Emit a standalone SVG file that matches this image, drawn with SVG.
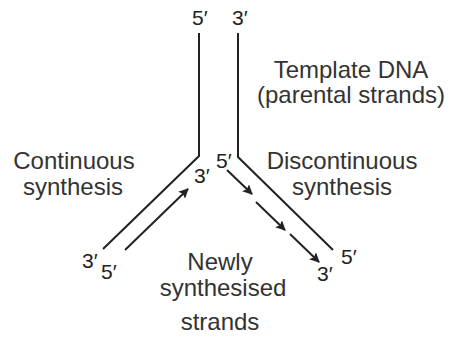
<svg xmlns="http://www.w3.org/2000/svg" width="454" height="339" viewBox="0 0 454 339">
<defs>
<marker id="ah" viewBox="0 0 10 10" refX="9" refY="5" markerWidth="10" markerHeight="10" markerUnits="userSpaceOnUse" orient="auto">
<path d="M0,0 L10,5 L0,10 L2,5 Z" fill="#222"/>
</marker>
<style>
.ln{fill:none;stroke:#222;stroke-width:2;}
.ar{fill:none;stroke:#222;stroke-width:2;marker-end:url(#ah);}
.t{font-family:"Liberation Sans",Arial,sans-serif;font-size:24px;fill:#333;text-anchor:middle;}
.n{font-family:"Liberation Sans",Arial,sans-serif;font-size:21px;fill:#222;}
</style>
</defs>
<rect width="454" height="339" fill="#fff"/>
<g id="connectors">
<path class="ln" d="M199,33 L199,156 L103,249"/>
<path class="ln" d="M238,33 L238,157 L333,250"/>
<path class="ar" d="M125,250 L188,189"/>
<path class="ar" d="M227,170 L252,194"/>
<path class="ar" d="M256,202 L285,230"/>
<path class="ar" d="M290,234 L319,262"/>
</g>
<g id="top-labels">
<text class="n" x="192" y="25">5′</text>
<text class="n" x="232" y="25">3′</text>
</g>
<g id="fork-labels">
<text class="n" x="194" y="183">3′</text>
<text class="n" x="216" y="168">5′</text>
</g>
<g id="left-end-labels">
<text class="n" x="82" y="268">3′</text>
<text class="n" x="101" y="279">5′</text>
</g>
<g id="right-end-labels">
<text class="n" x="341" y="264">5′</text>
<text class="n" x="317" y="281">3′</text>
</g>
<g id="template">
<text class="t" x="351" y="78">Template DNA</text>
<text class="t" x="351" y="103">(parental strands)</text>
</g>
<g id="continuous">
<text class="t" x="74" y="169">Continuous</text>
<text class="t" x="73" y="195">synthesis</text>
</g>
<g id="discontinuous">
<text class="t" x="342" y="169">Discontinuous</text>
<text class="t" x="342" y="195">synthesis</text>
</g>
<g id="newly">
<text class="t" x="220" y="270">Newly</text>
<text class="t" x="223" y="296">synthesised</text>
<text class="t" x="220" y="330">strands</text>
</g>
</svg>
